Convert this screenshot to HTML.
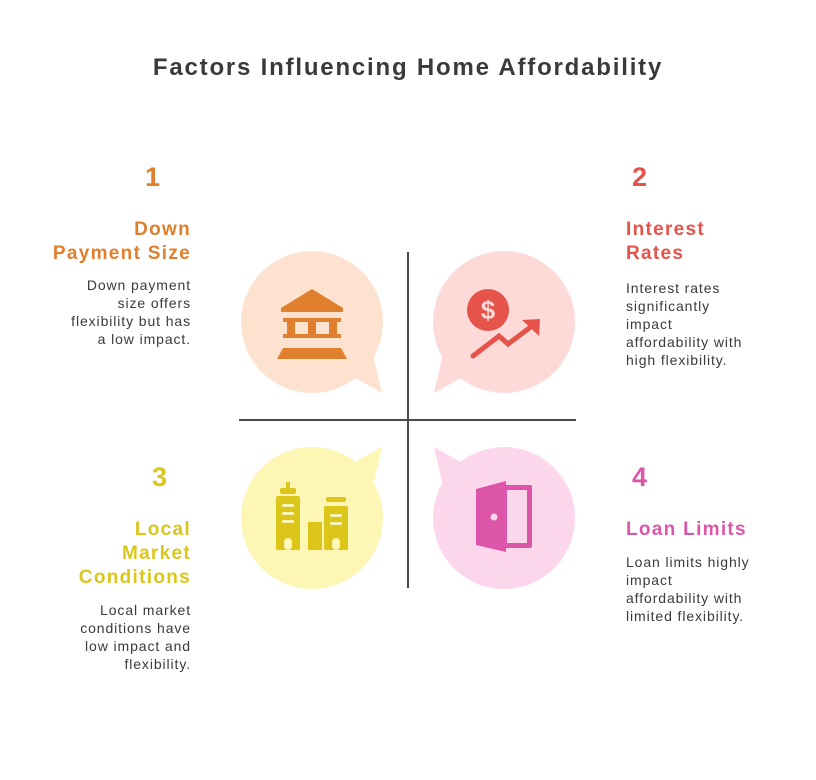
<!DOCTYPE html>
<html><head><meta charset="utf-8"><style>
body{margin:0;width:816px;height:780px;background:#fff;position:relative;font-family:"Liberation Sans",sans-serif;overflow:hidden}
.t{position:absolute;white-space:nowrap}
.num{font-size:27px;font-weight:bold;line-height:30px}
.h{font-size:19px;font-weight:bold;line-height:24px;letter-spacing:1.3px}
.b{font-size:14px;line-height:18px;color:#3a3a3a;letter-spacing:0.9px}
.r{text-align:right}
</style></head><body>
<div class="t" style="left:0;width:816px;top:54px;text-align:center;font-size:24px;font-weight:bold;color:#3a3a3a;letter-spacing:1.8px">Factors Influencing Home Affordability</div>

<svg width="816" height="780" style="position:absolute;left:0;top:0">
<circle cx="312" cy="322" r="71" fill="#fde3cf"/><path d="M350,375 L382,393 L372,350 Z" fill="#fde3cf"/>
<circle cx="504" cy="322" r="71" fill="#fdd9d7"/><path d="M466,375 L434,393 L444,350 Z" fill="#fdd9d7"/>
<circle cx="312" cy="518" r="71" fill="#fdf6b5"/><path d="M350,465 L382,447 L372,490 Z" fill="#fdf6b5"/>
<circle cx="504" cy="518" r="71" fill="#fcd7ec"/><path d="M466,465 L434,447 L444,490 Z" fill="#fcd7ec"/>
<line x1="408" y1="252" x2="408" y2="588" stroke="#4a4a4a" stroke-width="2"/>
<line x1="239" y1="420" x2="576" y2="420" stroke="#4a4a4a" stroke-width="2"/>
<g fill="#e07f2e">
<path d="M312,289 L343,308 L343,312 L281,312 L281,308 Z"/>
<rect x="283" y="318" width="58" height="4"/><rect x="283" y="334" width="58" height="4"/>
<rect x="287" y="318" width="8" height="20"/><rect x="308" y="318" width="8" height="20"/><rect x="329" y="318" width="8" height="20"/>
<path d="M283,348 L341,348 L347,359 L277,359 Z"/>
</g>
<circle cx="488" cy="310" r="21" fill="#e5534b"/>
<text x="488" y="319" font-size="26" font-weight="bold" fill="#fdd9d7" text-anchor="middle" font-family="Liberation Sans">$</text>
<polyline points="473,356 499,336 508,344 532,326" fill="none" stroke="#e5534b" stroke-width="5" stroke-linecap="round"/>
<path d="M522,320 L540,319 L539,336 Z" fill="#e5534b"/>
<g fill="#dcc61a">
<rect x="286" y="482" width="4" height="8"/><rect x="280" y="488" width="16" height="6" rx="2"/>
<rect x="276" y="496" width="24" height="54" rx="2"/>
<rect x="308" y="522" width="14" height="28"/>
<rect x="326" y="497" width="20" height="5" rx="2"/>
<rect x="324" y="506" width="24" height="44" rx="2"/>
</g>
<g fill="#fdf6b5">
<rect x="282" y="504" width="12" height="3" rx="1.5"/><rect x="282" y="512" width="12" height="3" rx="1.5"/><rect x="282" y="520" width="12" height="3" rx="1.5"/>
<rect x="330" y="514" width="12" height="3" rx="1.5"/><rect x="330" y="522" width="12" height="3" rx="1.5"/>
<rect x="284" y="538" width="8" height="12" rx="4"/><rect x="332" y="538" width="8" height="12" rx="4"/>
</g>
<rect x="503" y="485" width="29" height="63" rx="2" fill="#dd55a8"/>
<rect x="507" y="490" width="20" height="53" fill="#fcd7ec"/>
<path d="M476,489 L506,481 L506,552 L476,545 Z" fill="#dd55a8"/>
<circle cx="494" cy="517" r="3.5" fill="#fcd7ec"/>
</svg>

<div class="t num" style="left:145px;top:162px;color:#e07f2e">1</div>
<div class="t h r" style="right:625px;top:218px;color:#e07f2e">Down<br>Payment Size</div>
<div class="t b r" style="right:625px;top:276px">Down payment<br>size offers<br>flexibility but has<br>a low impact.</div>

<div class="t num" style="left:632px;top:162px;color:#e5534b">2</div>
<div class="t h" style="left:626px;top:218px;color:#e5534b">Interest<br>Rates</div>
<div class="t b" style="left:626px;top:279px">Interest rates<br>significantly<br>impact<br>affordability with<br>high flexibility.</div>

<div class="t num" style="left:152px;top:462px;color:#dcc61a">3</div>
<div class="t h r" style="right:625px;top:518px;color:#dcc61a">Local<br>Market<br>Conditions</div>
<div class="t b r" style="right:625px;top:601px">Local market<br>conditions have<br>low impact and<br>flexibility.</div>

<div class="t num" style="left:632px;top:462px;color:#dd55a8">4</div>
<div class="t h" style="left:626px;top:518px;color:#dd55a8">Loan Limits</div>
<div class="t b" style="left:626px;top:553px">Loan limits highly<br>impact<br>affordability with<br>limited flexibility.</div>
</body></html>
